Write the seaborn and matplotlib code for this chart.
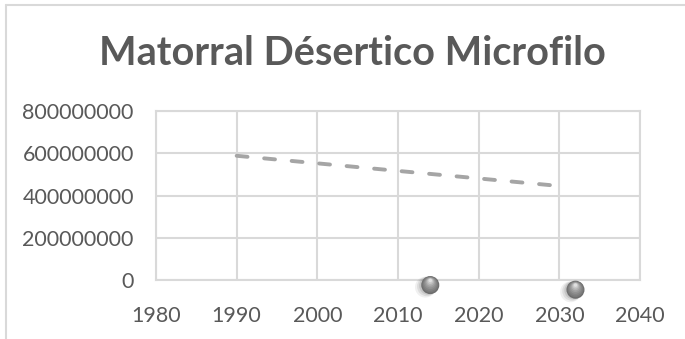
import matplotlib
matplotlib.use("Agg")
import matplotlib.pyplot as plt
import matplotlib.transforms as mtransforms
from matplotlib.lines import Line2D
import seaborn as sns
import pandas as pd

# Observed points
years = [2014, 2032]
values = [-24e6, -46e6]

# Linear trend line endpoints
trend_years = [1990, 2030]
trend_values = [588e6, 445e6]

x_ticks = [1980, 1990, 2000, 2010, 2020, 2030, 2040]
y_ticks = [0, 200000000, 400000000, 600000000, 800000000]
title = "Matorral Désertico Microfilo"

sns.set_theme(style="white")
plt.rcParams["font.family"] = ["Lato", "DejaVu Sans"]

text_color = "#595959"
grid_color = "#d9d9d9"

fig = plt.figure(figsize=(6.85, 3.39), dpi=100)
ax = fig.add_axes([156 / 685, 1 - 280 / 339, (640 - 156) / 685, (280 - 111) / 339])

pts = pd.DataFrame({"year": years, "value": values})
trend = pd.DataFrame({"year": trend_years, "value": trend_values})

sns.lineplot(data=trend, x="year", y="value", ax=ax, color="#a5a5a5",
             linewidth=2.8, dashes=False, zorder=3)
ax.lines[-1].set_dashes([2.8, 4.3])
ax.lines[-1].set_solid_capstyle("round")
ax.lines[-1].set_dash_capstyle("round")

# Soft shadow to the lower left of each marker
for i, (dx, dy, a) in enumerate([(-3.5, -1.5, 0.08), (-2.5, -1, 0.11), (-1.5, -0.5, 0.14)]):
    tr = mtransforms.offset_copy(ax.transData, fig=fig, x=dx, y=dy, units="points")
    sns.scatterplot(data=pts, x="year", y="value", ax=ax, s=(15 - i) ** 2,
                    color="#404040", alpha=a, edgecolor="none", linewidth=0,
                    transform=tr, clip_on=False, zorder=4, legend=False)

# Shaded sphere markers built from stacked discs
layers = [(13.0, 0.0, "#6e6e6e"), (11.5, 0.4, "#7a7a7a"), (10.0, 0.8, "#858585"),
          (8.5, 1.3, "#929292"), (7.0, 1.8, "#a0a0a0"), (5.5, 2.3, "#b3b3b3"),
          (4.0, 2.8, "#c8c8c8"), (2.5, 3.3, "#e0e0e0")]
for size, dy, col in layers:
    tr = mtransforms.offset_copy(ax.transData, fig=fig, x=0, y=dy, units="points")
    sns.scatterplot(data=pts, x="year", y="value", ax=ax, s=size ** 2,
                    color=col, edgecolor="none", linewidth=0,
                    transform=tr, clip_on=False, zorder=5, legend=False)

ax.set_xlim(1980, 2040)
ax.set_ylim(0, 800000000)
ax.set_xticks(x_ticks)
ax.set_yticks(y_ticks)
ax.set_xticklabels([str(t) for t in x_ticks])
ax.set_yticklabels([str(t) for t in y_ticks])
ax.set_xlabel("")
ax.set_ylabel("")
ax.grid(True, color=grid_color, linewidth=1.5)
ax.set_axisbelow(True)
for sp in ax.spines.values():
    sp.set_color(grid_color)
    sp.set_linewidth(1.5)
ax.tick_params(axis="both", length=0, labelsize=15.5, labelcolor=text_color)
ax.tick_params(axis="x", pad=19)
ax.tick_params(axis="y", pad=16)

fig.text(352 / 685, 1 - 65 / 339, title, ha="center", va="baseline",
         fontsize=28.5, fontweight="bold", color=text_color)

# Chart frame along the top and left edges
fig.add_artist(Line2D([6 / 685, 1], [1 - 5 / 339, 1 - 5 / 339],
                      transform=fig.transFigure, color=grid_color, linewidth=1.5))
fig.add_artist(Line2D([6 / 685, 6 / 685], [0, 1 - 5 / 339],
                      transform=fig.transFigure, color=grid_color, linewidth=1.5))

fig.savefig("out.png", dpi=100)
